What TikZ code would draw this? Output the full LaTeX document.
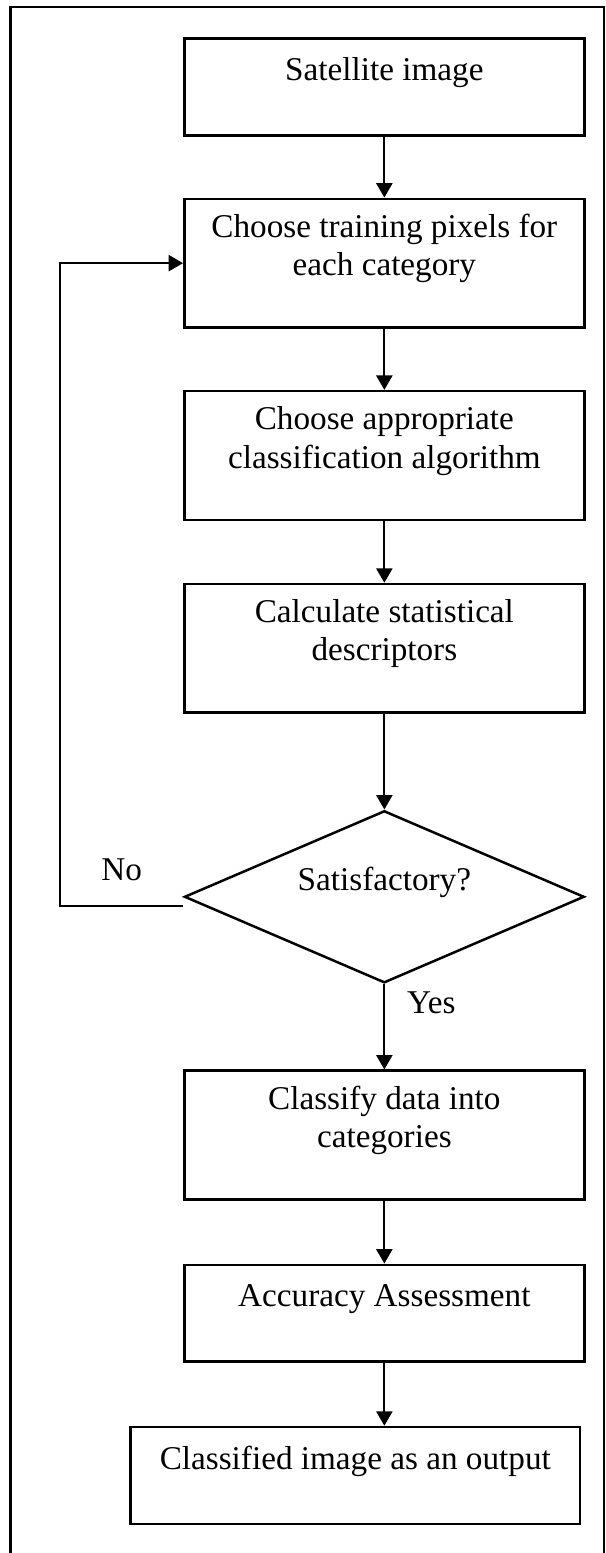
\documentclass[tikz,border=0pt]{standalone}
\usepackage{fontspec}
\setmainfont{Liberation Serif}
\usetikzlibrary{shapes.geometric,arrows.meta,positioning}
\tikzstyle{block} = [draw, rectangle, line width=0.9pt, align=center, minimum width=144.6pt, minimum height=35pt, text depth=13pt]
\tikzstyle{tall} = [minimum height=46.5pt]
\tikzstyle{decision} = [draw, diamond, aspect=2.3, line width=0.9pt, minimum width=144.5pt, minimum height=62.2pt, inner sep=0pt, text depth=13pt]

\begin{document}
\begin{tikzpicture}[font=\fontsize{12pt}{13.8pt}\selectfont, >={Triangle[length=5.2pt,width=5.8pt]}, line width=0.8pt]
    % page size and the outer frame
    \useasboundingbox (0,0) rectangle (218.65pt,-561.25pt);
    \draw (3.8pt,-561.25pt) -- (3.8pt,-2.6pt) -- (218.3pt,-2.6pt) -- (218.3pt,-561.25pt);

    % the steps, from top to bottom
    \node [block] (image) at (138.9pt,-31.5pt) {Satellite image};
    \node [block, tall, below of=image, node distance=63.6pt] (training) {Choose training pixels for\\each category};
    \node [block, tall, below of=training, node distance=69.5pt] (algorithm) {Choose appropriate\\classification algorithm};
    \node [block, tall, below of=algorithm, node distance=69.7pt] (descriptors) {Calculate statistical\\descriptors};
    \node [decision, below of=descriptors, node distance=89.8pt] (check) {Satisfactory?};
    \node [block, tall, below of=check, node distance=86.1pt] (classify) {Classify data into\\categories};
    \node [block, below of=classify, node distance=64.4pt] (assess) {Accuracy Assessment};
    \node [block, below of=assess, node distance=58.6pt, xshift=-10.5pt, minimum width=162.4pt] (output) {Classified image as an output};

    % connections
    \draw [->] (image) -- (training);
    \draw [->] (training) -- (algorithm);
    \draw [->] (algorithm) -- (descriptors);
    \draw [->] (descriptors) -- (check);
    \draw [->] (check) -- node [right=4.5pt, pos=0.22] {Yes} (classify);
    \draw [->] (classify) -- (assess);
    \draw [->] (assess) -- (assess |- output.north);
    \draw [->] ([yshift=-3.4pt]check.west) -- node [above=5.5pt] {No} ++(-44.4pt,0) |- (training.west);
\end{tikzpicture}
\end{document}
